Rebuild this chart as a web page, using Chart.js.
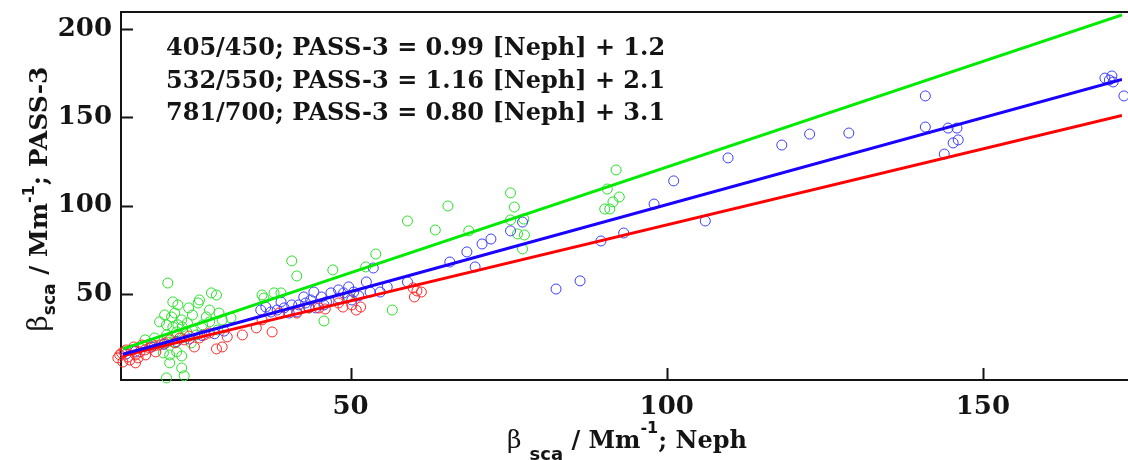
<!DOCTYPE html>
<html>
<head>
<meta charset="utf-8">
<script src="https://cdn.jsdelivr.net/npm/chart.js@4.4.1/dist/chart.umd.min.js"></script>
<style>
  html, body { margin: 0; padding: 0; background: #fff; }
  #wrap { width: 1128px; height: 460px; position: relative; }
</style>
</head>
<body>
<div id="wrap"><canvas id="chart"></canvas></div>
<script>
// Neph vs PASS-3 scattering, three wavelength pairs
const xTicks = [50, 100, 150];
const yTicks = [50, 100, 150, 200];

const greenX = [92.0, 90.6, 92.5, 91.5, 90.2, 91.0, 75.3, 75.9, 75.3, 77.4, 76.4, 77.5, 77.2, 65.4, 59.0, 63.4, 68.7, 56.6, 54.0,
  40.7, 41.5, 47.2, 52.4, 36.0, 37.9, 39.0, 36.3, 45.8, 43.4, 49.7,
  21.1, 28.8, 28.0, 21.9, 22.7, 24.4, 26.1, 25.9, 20.6, 21.7, 22.2, 23.3, 24.2, 23.4, 25.0, 27.2, 29.2, 20.9, 21.9, 22.5,
  24.1, 25.0, 26.6, 27.7, 20.9, 23.3, 24.8, 21.1, 27.7, 19.8, 21.4, 23.3, 21.4, 23.3, 23.7, 20.9, 22.2, 22.5, 25.6, 20.4,
  17.5, 19.0, 29.0, 29.7, 31.1, 22.7];
const greenY = [120.2, 109.4, 104.9, 102.1, 98.1, 98.1, 107.2, 99.2, 91.9, 92.4, 84.0, 83.4, 75.5, 99.8, 91.3, 86.2, 85.7, 40.9, 72.6,
  68.7, 60.2, 63.6, 65.3, 49.4, 50.6, 50.6, 47.7, 34.7, 42.1, 48.3,
  56.2, 49.4, 50.6, 45.5, 43.8, 42.1, 46.6, 44.9, 38.1, 37.0, 39.2, 35.3, 33.6, 31.3, 38.1, 37.0, 39.2, 32.5, 31.3, 28.5,
  28.5, 29.6, 32.5, 34.2, 26.8, 25.1, 22.3, 22.8, 40.9, 34.2, 15.5, 14.9, 11.0, 8.1, 3.7, 2.5, 22.8, 17.2, 26.8, 16.6,
  24.0, 25.1, 29.6, 35.3, 36.5, 32.5];

const blueX = [169.3, 170.0, 170.4, 170.6, 172.3, 140.9, 140.9, 144.5, 145.9, 145.3, 146.1, 143.9, 122.6, 128.8, 118.2, 109.7,
  101.1, 98.0, 106.1, 93.2, 89.6, 86.3, 82.5,
  77.2, 75.3, 72.2, 70.8, 68.4, 65.7, 69.7, 59.0, 55.8, 54.7, 53.6,
  52.5, 49.7, 48.1, 46.9, 45.4, 44.2, 43.7, 42.9, 41.8, 40.7, 39.5, 38.4, 37.4, 36.6, 40.3, 44.5, 50.2, 53.1, 43.4, 46.2,
  48.1, 41.5, 48.9, 50.5, 51.3, 45.8, 42.6, 39.0, 35.8,
  14.5, 16.0, 18.5, 20.5, 22.5, 24.5, 26.5, 28.5, 30.0];
const blueY = [172.2, 171.1, 173.4, 170.0, 162.1, 162.1, 144.5, 143.9, 143.9, 135.5, 137.2, 129.2, 140.5, 141.1, 134.3, 127.0,
  114.0, 100.9, 91.3, 84.5, 80.0, 57.4, 52.8,
  90.7, 85.7, 81.1, 78.3, 73.8, 68.1, 65.3, 56.8, 54.0, 51.1, 64.7,
  56.8, 54.0, 52.3, 50.6, 48.3, 51.1, 46.6, 44.9, 43.8, 43.8, 42.1, 40.9, 39.8, 42.6, 39.2, 42.1, 46.6, 51.1, 42.6, 45.5,
  47.7, 39.8, 50.6, 51.1, 48.9, 43.8, 48.3, 45.5, 40.9,
  16.0, 17.5, 20.0, 21.5, 23.0, 24.5, 26.5, 27.5, 29.0];

const redX = [59.9, 60.5, 61.2, 60.1, 38.7, 43.4, 49.5, 50.2, 50.9, 51.6, 48.1, 45.0, 41.5, 36.0, 35.1, 37.6, 32.9, 28.8, 29.7,
  30.5, 25.3, 13.5, 14.2, 14.8, 15.4, 16.0, 16.7, 17.5, 18.2, 19.0, 19.8, 20.6, 21.4, 22.2, 23.0, 23.7, 24.5, 14.5, 15.7,
  17.0, 18.6, 13.2, 15.1, 16.4, 13.8, 17.6, 19.2, 26.1, 26.9, 27.7, 14.0, 16.0, 48.8, 46.0];
const redY = [53.4, 51.7, 51.1, 48.3, 39.2, 42.1, 48.3, 43.8, 40.9, 42.6, 44.9, 42.1, 39.2, 35.3, 30.8, 28.5, 26.8, 18.9, 20.0,
  25.7, 20.0, 15.5, 17.2, 14.3, 18.3, 15.5, 17.2, 18.3, 19.4, 20.6, 21.1, 22.3, 24.0, 22.3, 25.1, 24.0, 26.2, 18.3, 20.0,
  21.1, 21.7, 13.8, 12.6, 13.8, 16.6, 15.5, 17.2, 25.1, 26.8, 27.9, 11.5, 11.0, 42.6, 41.5];

// fit lines (end points)
const fitX = [14, 172];
const fitGreen = [18.9, 208.0];
const fitBlue = [15.9, 171.4];
const fitRed = [15.1, 151.0];

const fitLabels = [
  '405/450; PASS-3 = 0.99 [Neph] + 1.2',
  '532/550; PASS-3 = 1.16 [Neph] + 2.1',
  '781/700; PASS-3 = 0.80 [Neph] + 3.1'
];

const SERIF = "'DejaVu Serif', serif";
const SANS = "'DejaVu Sans', sans-serif";
const INK = '#141414';

function pts(xs, ys) {
  return xs.map((x, i) => ({ x: x, y: ys[i] }));
}

function scatterSet(label, xs, ys, color, order) {
  return {
    label: label,
    data: pts(xs, ys),
    pointStyle: 'circle',
    pointRadius: 5,
    pointBorderWidth: 1,
    borderColor: color,
    backgroundColor: 'rgba(0,0,0,0)',
    showLine: false,
    clip: false,
    order: order
  };
}

function fitSet(label, ys, color, order) {
  return {
    label: label,
    data: pts(fitX, ys),
    showLine: true,
    pointRadius: 0,
    borderColor: color,
    borderWidth: 3,
    order: order
  };
}

// draws a run of text pieces (with sub/superscripts) centred on cx
function richText(ctx, parts, cx, baseY) {
  let total = 0;
  parts.forEach(p => { ctx.font = p.font; p.w = ctx.measureText(p.t).width; total += p.w; });
  let x = cx - total / 2;
  ctx.textAlign = 'left';
  ctx.textBaseline = 'alphabetic';
  parts.forEach(p => {
    ctx.font = p.font;
    ctx.fillText(p.t, x, baseY + (p.dy || 0));
    x += p.w;
  });
}

const framePlugin = {
  id: 'frame',
  beforeDatasetsDraw(chart) {
    const { ctx, chartArea: a, scales } = chart;
    ctx.save();
    ctx.strokeStyle = INK;
    ctx.lineWidth = 2;
    ctx.beginPath();
    ctx.moveTo(chart.width + 2, a.top);
    ctx.lineTo(a.left, a.top);
    ctx.lineTo(a.left, a.bottom);
    ctx.lineTo(chart.width + 2, a.bottom);
    ctx.stroke();
    // inward tick marks
    ctx.beginPath();
    xTicks.forEach(v => {
      const px = Math.round(scales.x.getPixelForValue(v)) + 0.5;
      ctx.moveTo(px, a.bottom);
      ctx.lineTo(px, a.bottom - 12);
    });
    yTicks.forEach(v => {
      const py = Math.round(scales.y.getPixelForValue(v)) + 0.5;
      ctx.moveTo(a.left, py);
      ctx.lineTo(a.left + 12, py);
    });
    ctx.stroke();
    ctx.restore();
  },
  afterDraw(chart) {
    const ctx = chart.ctx;
    ctx.save();
    ctx.fillStyle = INK;

    // fit equations
    ctx.font = 'bold 24px ' + SERIF;
    ctx.textAlign = 'left';
    ctx.textBaseline = 'alphabetic';
    fitLabels.forEach((t, i) => ctx.fillText(t, 166, 55 + i * 32.5));

    // x axis title
    richText(ctx, [
      { t: 'β ', font: '25px ' + SERIF },
      { t: 'sca', font: 'bold 18px ' + SANS, dy: 12 },
      { t: ' / Mm', font: 'bold 24px ' + SERIF },
      { t: '-1', font: 'bold 16px ' + SANS, dy: -15 },
      { t: '; Neph', font: 'bold 24px ' + SERIF }
    ], 627, 448);

    // y axis title
    ctx.translate(47, 199);
    ctx.rotate(-Math.PI / 2);
    richText(ctx, [
      { t: 'β', font: '28px ' + SERIF },
      { t: 'sca', font: 'bold 17px ' + SANS, dy: 8 },
      { t: ' / Mm', font: 'bold 25px ' + SERIF },
      { t: '-1', font: 'bold 16px ' + SANS, dy: -13 },
      { t: '; PASS-3', font: 'bold 25px ' + SERIF }
    ], 0, 0);
    ctx.restore();
  }
};

new Chart(document.getElementById('chart').getContext('2d'), {
  type: 'scatter',
  data: {
    datasets: [
      scatterSet('532/550', greenX, greenY, 'rgb(40,225,40)', 5),
      scatterSet('405/450', blueX, blueY, 'rgb(60,60,255)', 4),
      scatterSet('781/700', redX, redY, 'rgb(255,40,40)', 3),
      fitSet('fit 781/700', fitRed, 'rgb(255,0,0)', 2),
      fitSet('fit 405/450', fitBlue, 'rgb(25,0,255)', 1),
      fitSet('fit 532/550', fitGreen, 'rgb(0,235,0)', 0)
    ]
  },
  options: {
    animation: false,
    responsive: true,
    maintainAspectRatio: false,
    events: [],
    layout: { padding: { top: 12, right: 0, left: 0, bottom: 0 } },
    plugins: {
      legend: { display: false },
      tooltip: { enabled: false }
    },
    scales: {
      x: {
        type: 'linear',
        min: 13.7,
        max: 172,
        afterBuildTicks: s => { s.ticks = xTicks.map(v => ({ value: v })); },
        afterFit: s => { s.height = 80; s.paddingLeft = 0; s.paddingRight = 0; },
        grid: { display: false, drawTicks: false },
        border: { display: false },
        ticks: { color: INK, padding: 12, font: { family: SERIF, size: 26, weight: 'bold' } }
      },
      y: {
        type: 'linear',
        min: 1.3,
        max: 209.6,
        afterBuildTicks: s => { s.ticks = yTicks.map(v => ({ value: v })); },
        afterFit: s => { s.width = 121; s.paddingTop = 0; s.paddingBottom = 0; },
        grid: { display: false, drawTicks: false },
        border: { display: false },
        ticks: { color: INK, padding: 9, font: { family: SERIF, size: 26, weight: 'bold' } }
      }
    }
  },
  plugins: [framePlugin]
});
</script>
</body>
</html>
